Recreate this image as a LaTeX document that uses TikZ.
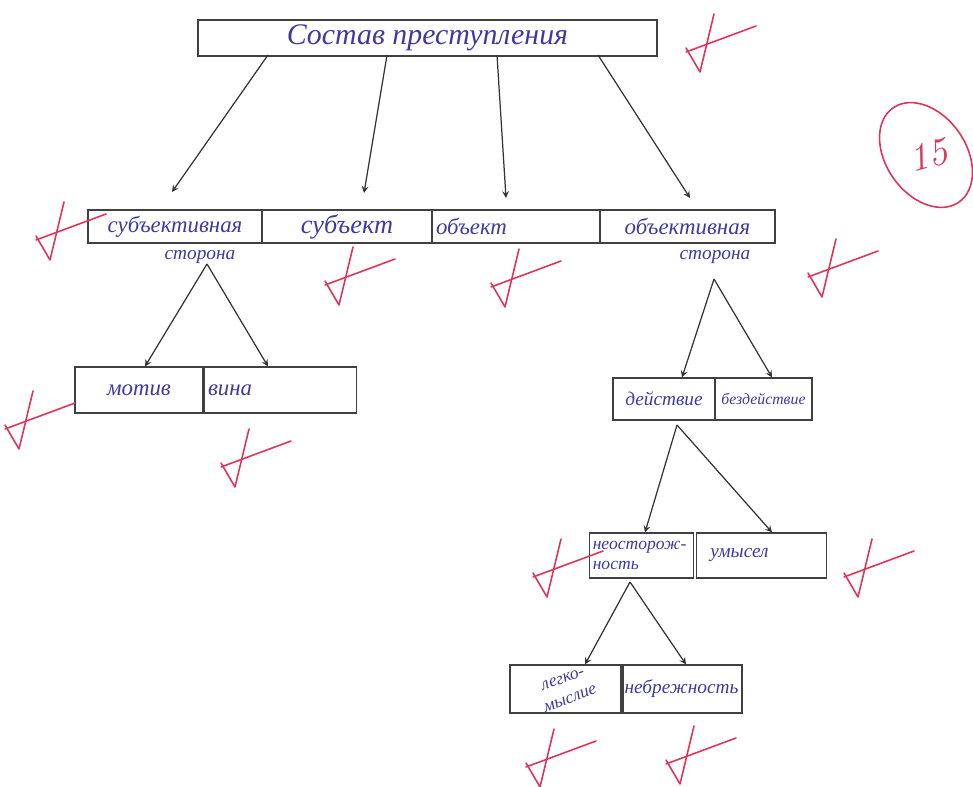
\documentclass[tikz,border=0pt]{standalone}
\usepackage{fontspec}
\newfontfamily\inkfont{Liberation Serif}
\usetikzlibrary{positioning}

\definecolor{inkblue}{RGB}{62,58,160}
\definecolor{gradered}{RGB}{222,52,88}

\tikzset{
  cell/.style={draw=black!75, line width=0.7pt, inner sep=2pt, text=inkblue,
               font=\inkfont\itshape\fontsize{13}{14}\selectfont},
  link/.style={black!80, line width=0.7pt, -stealth},
  redmark/.style={gradered, line width=0.9pt, line cap=round, line join=round},
  redtick/.pic={
    \draw [redmark] (-22,12) -- (48,-14);
    \draw [redmark] (-22,8) -- (-8,32) -- (6,-26);
  }
}

\begin{document}
\begin{tikzpicture}[x=0.02cm, y=-0.02cm]
    \useasboundingbox (0,0) rectangle (973,787);

    % Top box
    \node [cell, minimum width=9.18cm, minimum height=0.72cm,
           font=\inkfont\itshape\fontsize{17}{18}\selectfont]
          (crime) at (427.5,38) {Состав преступления};

    % Elements of the crime
    \node [cell, minimum width=3.48cm, minimum height=0.66cm,
           label={[text=inkblue, font=\inkfont\itshape\fontsize{11}{12}\selectfont,
                   xshift=0.5cm, label distance=0.02cm]below:сторона}]
          (subjside) at (175,226.5) {субъективная};
    \node [cell, minimum width=3.40cm, minimum height=0.66cm,
           font=\inkfont\itshape\fontsize{15}{16}\selectfont]
          (subject) at (347,226.5) {субъект};
    \node [cell, text width=3.2cm, minimum height=0.66cm, align=left]
          (object) at (516,226.5) {объект};
    \node [cell, minimum width=3.50cm, minimum height=0.66cm,
           label={[text=inkblue, font=\inkfont\itshape\fontsize{11}{12}\selectfont,
                   xshift=0.55cm, label distance=0.02cm]below:сторона}]
          (objside) at (687.5,226.5) {объективная};

    % Edges from the top box
    \coordinate (c1) at (268,55);
    \coordinate (c2) at (387,55);
    \coordinate (c3) at (497,55);
    \coordinate (c4) at (598,55);
    \coordinate (e1) at (172,192);
    \coordinate (e2) at (364,193);
    \coordinate (e3) at (506,198);
    \coordinate (e4) at (690,198);
    \draw [link] (c1) -- (e1);
    \draw [link] (c2) -- (e2);
    \draw [link] (c3) -- (e3);
    \draw [link] (c4) -- (e4);

    % Subjective side
    \node [cell, minimum width=2.56cm, minimum height=0.92cm]
          (motive) at (139,390) {мотив};
    \node [cell, text width=2.9cm, minimum height=0.92cm, align=left]
          (guilt) at (280.5,390) {вина};

    \coordinate (sp) at (207,264);
    \draw [link] (sp) -- (motive.north -| 145,0);
    \draw [link] (sp) -- (guilt.north -| 268,0);

    % Objective side
    \node [cell, minimum width=2.04cm, minimum height=0.84cm,
           font=\inkfont\itshape\fontsize{11}{12}\selectfont]
          (action) at (664,399) {действие};
    \node [cell, minimum width=1.94cm, minimum height=0.84cm,
           font=\inkfont\itshape\fontsize{9}{10}\selectfont]
          (inaction) at (763.5,399) {бездействие};

    \coordinate (op) at (714,279);
    \draw [link] (op) -- (action.north -| 682,0);
    \draw [link] (op) -- (inaction.north -| 772,0);

    % Forms of guilt
    \node [cell, text width=1.95cm, minimum height=0.9cm, align=left,
           font=\inkfont\itshape\fontsize{10}{11}\selectfont]
          (careless) at (641.5,555.5) {неосторож-\\ность};
    \node [cell, text width=2.45cm, minimum height=0.9cm, align=left,
           font=\inkfont\itshape\fontsize{11}{12}\selectfont]
          (intent) at (761.5,555.5) {\hspace{0.2cm}умысел};

    \coordinate (ap) at (677,425);
    \draw [link] (ap) -- (careless.north -| 645,0);
    \draw [link] (ap) -- (intent.north -| 772,0);

    % Kinds of carelessness
    \node [cell, minimum width=2.26cm, minimum height=0.96cm,
           label={[text=inkblue, rotate=20, align=center,
                   font=\inkfont\itshape\fontsize{10}{12}\selectfont]center:легко-\\мыслие}]
          (frivol) at (566.5,689) {};
    \node [cell, minimum width=2.34cm, minimum height=0.96cm,
           font=\inkfont\itshape\fontsize{11}{12}\selectfont]
          (neglig) at (681.5,689) {небрежность};

    \coordinate (np) at (630,582);
    \draw [link] (np) -- (frivol.north -| 585,0);
    \draw [link] (np) -- (neglig.north -| 686,0);

    % Grade marks
    \pic at (708,40) {redtick};
    \pic at (58,228) {redtick};
    \pic at (347,273) {redtick};
    \pic at (513,275) {redtick};
    \pic at (830,265) {redtick};
    \pic at (27,417) {redtick};
    \pic at (243,455) {redtick};
    \pic at (555,565) {redtick};
    \pic at (866,565) {redtick};
    \pic at (548,755) {redtick};
    \pic at (688,752) {redtick};

    % Score
    \draw [redmark] (926,155) ellipse [x radius=1.15cm, y radius=0.8cm, rotate=-55];
    \node [text=gradered, rotate=15, font=\itshape\fontsize{22}{22}\selectfont]
          (score) at (928,155) {15};
  \end{tikzpicture}
\end{document}
